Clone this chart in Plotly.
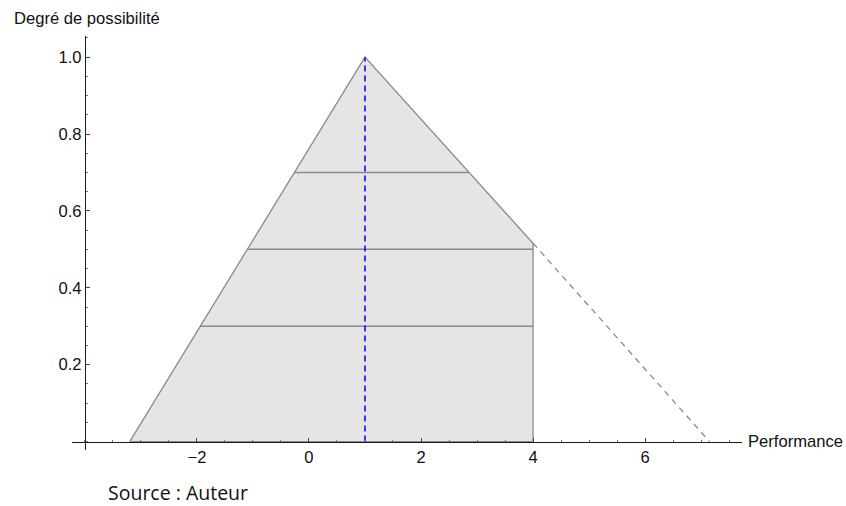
import plotly.graph_objects as go

# ---- data ----
region_x = [-3.2, 1.0, 4.0, 4.0, -3.2]
region_y = [0.0, 1.0, 0.516, 0.0, 0.0]
tail_x = [4.0, 7.15]
tail_y = [0.516, 0.0]
mode_x = [1.0, 1.0]
mode_y = [0.0, 1.0]
alpha_levels = [0.3, 0.5, 0.7]
cut_left = [-1.94, -1.1, -0.26]
cut_right = [4.0, 4.0, 2.86]
x_ticks = [-2, 0, 2, 4, 6]
x_tick_text = ["\u22122", "0", "2", "4", "6"]
y_ticks = [0.2, 0.4, 0.6, 0.8, 1.0]

x_range = [-4.23, 7.73]
y_range = [-0.022, 1.055]
y_axis_x = -4.0

EDGE = "#8a8a8a"
FILL = "#e5e5e5"
AX = "#1a1a1a"
FONT = "Liberation Sans, Arial, sans-serif"
FS = 16.6

W, H = 846, 506
ML, MT = 72, 36
PW, PH = 670, 414

fig = go.Figure()
fig.add_trace(go.Scatter(x=region_x, y=region_y, mode="lines", fill="toself",
                         fillcolor=FILL, line=dict(color=EDGE, width=1.3),
                         hoverinfo="skip", showlegend=False))
for a, l, r in zip(alpha_levels, cut_left, cut_right):
    fig.add_trace(go.Scatter(x=[l, r], y=[a, a], mode="lines",
                             line=dict(color=EDGE, width=1.5),
                             hoverinfo="skip", showlegend=False))
fig.add_trace(go.Scatter(x=tail_x, y=tail_y, mode="lines",
                         line=dict(color=EDGE, width=1.3, dash="6px,5px"),
                         hoverinfo="skip", showlegend=False))
fig.add_trace(go.Scatter(x=mode_x, y=mode_y, mode="lines",
                         line=dict(color="#0000ff", width=1.5, dash="6px,4px"),
                         hoverinfo="skip", showlegend=False))

xpos = (0 - y_range[0]) / (y_range[1] - y_range[0])
ypos = (y_axis_x - x_range[0]) / (x_range[1] - x_range[0])

fig.update_layout(
    width=W, height=H,
    margin=dict(l=ML, r=W - ML - PW, t=MT, b=H - MT - PH),
    paper_bgcolor="white", plot_bgcolor="white",
    font=dict(family=FONT, size=FS, color="#111"),
    xaxis=dict(range=x_range, showgrid=False, zeroline=False,
               anchor="free", position=xpos,
               showline=True, linecolor=AX, linewidth=1.4,
               ticks="inside", ticklen=4, tickwidth=1, tickcolor="#444",
               tickvals=x_ticks, ticktext=x_tick_text,
               minor=dict(dtick=0.5, tick0=0, ticks="inside", ticklen=2,
                          tickwidth=1, tickcolor="#777"),
               tickfont=dict(family=FONT, size=FS, color="#111"),
               layer="above traces", fixedrange=True),
    yaxis=dict(range=y_range, showgrid=False, zeroline=False,
               anchor="free", position=ypos,
               showline=True, linecolor=AX, linewidth=1.4,
               ticks="inside", ticklen=4, tickwidth=1, tickcolor="#444",
               tickvals=y_ticks, tickformat=".1f",
               minor=dict(dtick=0.05, tick0=0, ticks="inside", ticklen=2,
                          tickwidth=1, tickcolor="#777"),
               tickfont=dict(family=FONT, size=FS, color="#111"),
               layer="above traces", fixedrange=True),
    annotations=[
        dict(text="Degré de possibilité", xref="paper", yref="paper",
             x=(12 - ML)/PW, y=1 + 18/PH, xanchor="left", yanchor="middle",
             showarrow=False, font=dict(family=FONT, size=FS, color="#111")),
        dict(text="Performance", xref="paper", yref="y",
             x=(845 - ML)/PW, y=0, xanchor="right", yanchor="middle",
             showarrow=False, font=dict(family=FONT, size=FS, color="#111")),
        dict(text="Source : Auteur", xref="paper", yref="paper",
             x=(107 - ML)/PW, y=-(492 - MT - PH)/PH, xanchor="left", yanchor="middle",
             borderpad=0,
             showarrow=False, font=dict(family="Open Sans, sans-serif", size=19.5, color="#111")),
    ],
)

fig.write_html("out.html",
               config={"displayModeBar": False, "staticPlot": True},
               post_script="document.body.style.margin='0';document.body.style.overflow='hidden';")
